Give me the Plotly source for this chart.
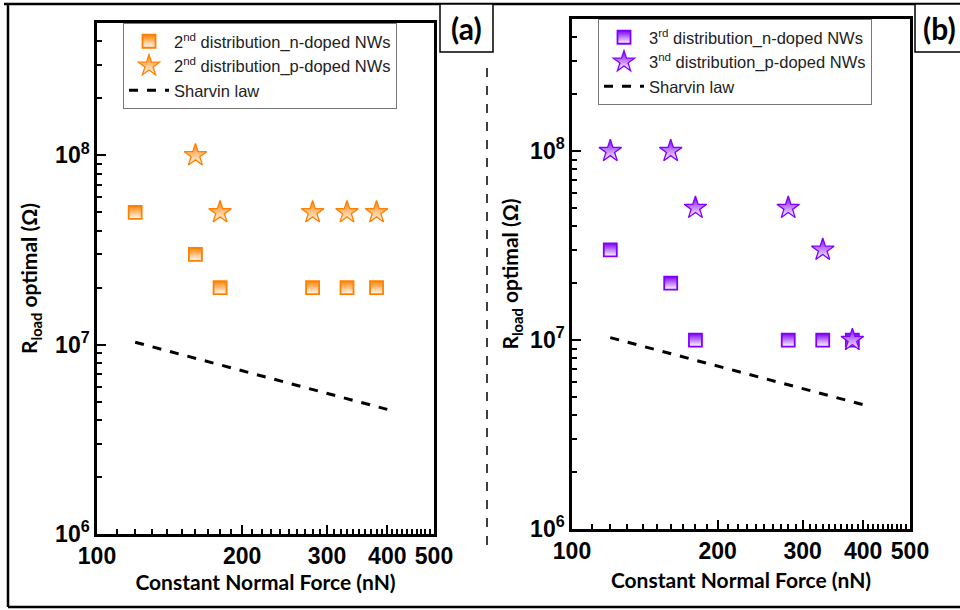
import math
import plotly.graph_objects as go

# ---------------- data ----------------
force = [120, 160, 180, 280, 330, 380]
a_p_force = [160, 180, 280, 330, 380]
a_n = [5e7, 3e7, 2e7, 2e7, 2e7, 2e7]
a_p = [1e8, 5e7, 5e7, 5e7, 5e7]
b_n = [3e7, 2e7, 1e7, 1e7, 1e7, 1e7]
b_p = [1e8, 1e8, 5e7, 5e7, 3e7, 1e7]
sharvin_force = [120, 400]
sharvin = [1.03e7, 4.55e6]

x_major = [100, 200, 300, 400, 500]
x_major_text = ["100", "200", "300", "400", "500"]
x_minor = [v for v in range(110, 500, 10) if v not in x_major]
y_major = [1e6, 1e7, 1e8]
y_major_text = ["10<sup>6</sup>", "10<sup>7</sup>", "10<sup>8</sup>"]
y_minor = [m * 10 ** e for e in (6, 7, 8) for m in range(2, 10) if m * 10 ** e < 5e8]

ORANGE = "#FF8000"
PURPLE = "#8000FF"
W, H = 960, 610


def px(x):
    return x / W


def py(y):
    return 1 - y / H


fig = go.Figure()


def sq(color):
    return dict(symbol="square", size=13, color=color,
                line=dict(color=color, width=1.8),
                gradient=dict(type="vertical", color="white"))


def star(color):
    return dict(symbol="star", size=17, color=color,
                line=dict(color=color, width=1.3),
                gradient=dict(type="vertical", color="white"))


# panel (a)
fig.add_trace(go.Scatter(x=force, y=a_n, mode="markers", marker=sq(ORANGE),
                         name="2<sup>nd</sup> distribution_n-doped NWs",
                         xaxis="x", yaxis="y", legend="legend"))
fig.add_trace(go.Scatter(x=a_p_force, y=a_p, mode="markers", marker=star(ORANGE),
                         name="2<sup>nd</sup> distribution_p-doped NWs",
                         xaxis="x", yaxis="y", legend="legend"))
fig.add_trace(go.Scatter(x=sharvin_force, y=sharvin, mode="lines",
                         line=dict(color="black", width=3, dash="dash"),
                         name="Sharvin law", xaxis="x", yaxis="y", legend="legend"))
# panel (b)
fig.add_trace(go.Scatter(x=force, y=b_n, mode="markers", marker=sq(PURPLE),
                         name="3<sup>rd</sup> distribution_n-doped NWs",
                         xaxis="x2", yaxis="y2", legend="legend2"))
fig.add_trace(go.Scatter(x=force, y=b_p, mode="markers", marker=star(PURPLE),
                         name="3<sup>nd</sup> distribution_p-doped NWs",
                         xaxis="x2", yaxis="y2", legend="legend2"))
fig.add_trace(go.Scatter(x=sharvin_force, y=sharvin, mode="lines",
                         line=dict(color="black", width=3, dash="dash"),
                         name="Sharvin law", xaxis="x2", yaxis="y2", legend="legend2"))

tickfont = dict(family="Liberation Sans, Arial", size=23, color="black", weight=700)
titlefont = dict(family="Lato, Open Sans", size=21, color="black", weight=700)


def xax(domain, anchor, standoff):
    return dict(domain=domain, anchor=anchor, type="log", automargin=False,
                range=[2, math.log10(500)],
                tickmode="array", tickvals=x_major, ticktext=x_major_text,
                ticks="inside", ticklen=9, tickwidth=2, tickcolor="black",
                minor=dict(tickmode="array", tickvals=x_minor, ticks="inside",
                           ticklen=5, tickwidth=2, tickcolor="black", showgrid=False),
                showline=True, linewidth=2.5, linecolor="black", mirror=True,
                showgrid=False, zeroline=False, tickfont=tickfont,
                title=dict(text="Constant Normal Force (nN)", font=titlefont, standoff=standoff))


def yax(domain, anchor, standoff):
    return dict(domain=domain, anchor=anchor, type="log", automargin=False,
                range=[6, math.log10(5e8)],
                tickmode="array", tickvals=y_major, ticktext=y_major_text,
                ticks="inside", ticklen=9, tickwidth=2, tickcolor="black",
                minor=dict(tickmode="array", tickvals=y_minor, ticks="inside",
                           ticklen=5, tickwidth=2, tickcolor="black", showgrid=False),
                showline=True, linewidth=2.5, linecolor="black", mirror=True,
                showgrid=False, zeroline=False, tickfont=tickfont,
                title=dict(text="R<sub>load</sub> optimal (Ω)", font=titlefont, standoff=standoff))


legfont = dict(family="Liberation Sans, Arial", size=16.5, color="#222")

fig.update_layout(
    width=W, height=H,
    margin=dict(l=0, r=0, t=0, b=0),
    paper_bgcolor="white", plot_bgcolor="white",
    xaxis=xax([px(97), px(434)], "y", 3),
    yaxis=yax([py(534), py(23)], "x", 12),
    xaxis2=xax([px(572), px(910)], "y2", 10),
    yaxis2=yax([py(529), py(19)], "x2", 6),
    legend=dict(x=px(123), y=py(23), xanchor="left", yanchor="top",
                bgcolor="white", bordercolor="#777", borderwidth=1,
                font=legfont, itemwidth=40, tracegroupgap=0),
    legend2=dict(x=px(598), y=py(19), xanchor="left", yanchor="top",
                 bgcolor="white", bordercolor="#777", borderwidth=1,
                 font=legfont, itemwidth=40, tracegroupgap=0),
    showlegend=True,
)

# decorative frame, divider and panel labels
shapes = [
    dict(type="line", xref="paper", yref="paper", x0=px(4), x1=px(960), y0=py(4), y1=py(4),
         line=dict(color="black", width=2.5)),
    dict(type="line", xref="paper", yref="paper", x0=px(8), x1=px(8), y0=py(4), y1=py(607),
         line=dict(color="black", width=2.5)),
    dict(type="line", xref="paper", yref="paper", x0=px(8), x1=px(960), y0=py(607), y1=py(607),
         line=dict(color="black", width=2.5)),
    dict(type="line", xref="paper", yref="paper", x0=px(487), x1=px(487), y0=py(68), y1=py(550),
         line=dict(color="black", width=1.5, dash="dash")),
    dict(type="rect", xref="paper", yref="paper", x0=px(440), x1=px(493), y0=py(52), y1=py(4),
         line=dict(color="black", width=1.5), fillcolor="white"),
    dict(type="rect", xref="paper", yref="paper", x0=px(915), x1=px(975), y0=py(52), y1=py(4),
         line=dict(color="black", width=1.5), fillcolor="white"),
]
fig.update_layout(shapes=shapes)
labfont = dict(family="Lato, Open Sans", size=30, color="black", weight=700)
fig.add_annotation(xref="paper", yref="paper", x=px(466.5), y=py(28), text="(a)",
                   showarrow=False, font=labfont, xanchor="center", yanchor="middle")
fig.add_annotation(xref="paper", yref="paper", x=px(921), y=py(28), text="(b)",
                   showarrow=False, font=labfont, xanchor="left", yanchor="middle")

fig.write_html("out.html", config={"displayModeBar": False},
               post_script="document.body.style.margin='0px';document.body.style.overflow='hidden';")
